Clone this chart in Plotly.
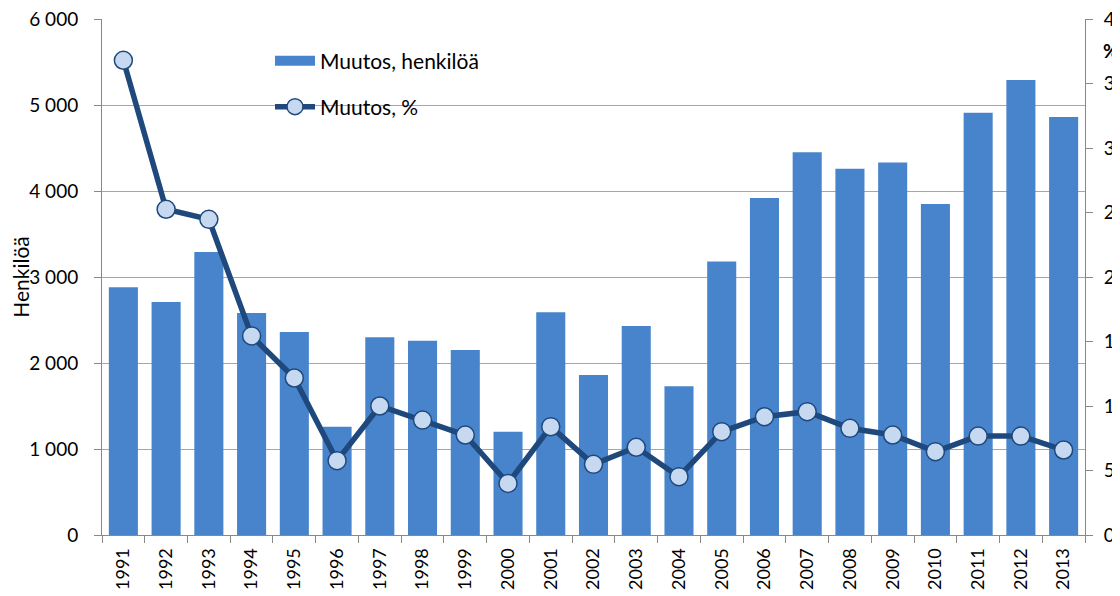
import plotly.graph_objects as go

years = [str(y) for y in range(1991, 2014)]
persons = [2880, 2710, 3290, 2580, 2360, 1260, 2300, 2260, 2150, 1200, 2590, 1860,
           2430, 1730, 3180, 3920, 4450, 4260, 4330, 3850, 4910, 5290, 4860]
percent = [36.8, 25.25, 24.47, 15.43, 12.17, 5.76, 10.0, 8.91, 7.75, 4.0, 8.40, 5.48,
           6.80, 4.52, 8.01, 9.17, 9.56, 8.27, 7.75, 6.46, 7.67, 7.67, 6.59]
left_ticks = [0, 1000, 2000, 3000, 4000, 5000, 6000]
right_ticks = [0, 5, 10, 15, 20, 25, 30, 35, 40]

FONT = "Lato, 'Open Sans', sans-serif"
BAR_COLOR = "#4884cb"
# the page body adds an 8px offset, so margins compensate
L, T, R, B = 94, 11, 43, 69
PW, PH = 1120 - L - R, 596 - T - B

fig = go.Figure()
fig.add_trace(go.Bar(
    x=years, y=persons, name="Muutos, henkilöä",
    marker=dict(color=BAR_COLOR, line=dict(width=0)),
    width=0.68, showlegend=False, yaxis="y",
))
# legend-only entry giving the wide rectangular bar key
fig.add_trace(go.Scatter(
    x=[None], y=[None], mode="lines", name="Muutos, henkilöä",
    line=dict(color=BAR_COLOR, width=14), legend="legend", yaxis="y",
))
fig.add_trace(go.Scatter(
    x=years, y=percent, name="Muutos, %", mode="lines+markers",
    line=dict(color="#1f497d", width=5.5),
    marker=dict(symbol="circle", size=18, color="#c6d9f1",
                line=dict(color="#1f497d", width=1.5)),
    legend="legend2", yaxis="y2",
))


def py(page_y):
    return (596 - B - (page_y - 8)) / PH


def px(page_x):
    return (page_x - 8 - L) / PW


fig.update_layout(
    width=1120, height=596,
    margin=dict(l=L, r=R, t=T, b=B),
    paper_bgcolor="white", plot_bgcolor="white",
    font=dict(family=FONT, size=17, color="black"),
    separators=", ",
    bargap=0.32,
    showlegend=True,
    xaxis=dict(
        type="category", tickangle=-90, showgrid=False, automargin=False,
        ticks="outside", ticklen=7, tickcolor="#888", tickson="boundaries",
        showline=True, linecolor="#888", linewidth=1, ticklabelstandoff=5,
        ticklabeloverflow="allow",
        tickfont=dict(size=18), range=[-0.5, 22.5],
    ),
    yaxis=dict(
        range=[0, 6000], tickvals=left_ticks, tickformat=",d", automargin=False,
        showgrid=True, gridcolor="#a6a6a6", gridwidth=1.3,
        ticks="outside", ticklen=7, tickcolor="#888", ticklabelstandoff=12,
        ticklabeloverflow="allow",
        showline=True, linecolor="#888", linewidth=1,
        zeroline=False,
        title=dict(text="Henkilöä", font=dict(size=21), standoff=0),
        tickfont=dict(size=19),
    ),
    yaxis2=dict(
        range=[0, 40], tickvals=right_ticks, overlaying="y", side="right",
        automargin=False, ticklabelstandoff=7, ticklabeloverflow="allow",
        showgrid=False, ticks="outside", ticklen=7, tickcolor="#888",
        showline=True, linecolor="#888", linewidth=1, zeroline=False,
        tickfont=dict(size=19),
    ),
    legend=dict(
        x=px(270), y=py(61), xanchor="left", yanchor="middle",
        bgcolor="rgba(0,0,0,0)", font=dict(size=21), borderwidth=0,
        itemwidth=40,
    ),
    legend2=dict(
        x=px(270), y=py(107), xanchor="left", yanchor="middle",
        bgcolor="rgba(0,0,0,0)", font=dict(size=21), borderwidth=0,
        itemwidth=40,
    ),
    shapes=[dict(
        type="rect", xref="paper", yref="paper", layer="between",
        x0=px(255), x1=px(495), y0=py(125), y1=py(35),
        fillcolor="white", line=dict(width=0),
    )],
    annotations=[dict(
        text="<b>%</b>", xref="paper", yref="paper", x=px(1101), y=py(50),
        xanchor="left", yanchor="middle", showarrow=False,
        font=dict(size=19),
    )],
)

fig.write_html("out.html")
